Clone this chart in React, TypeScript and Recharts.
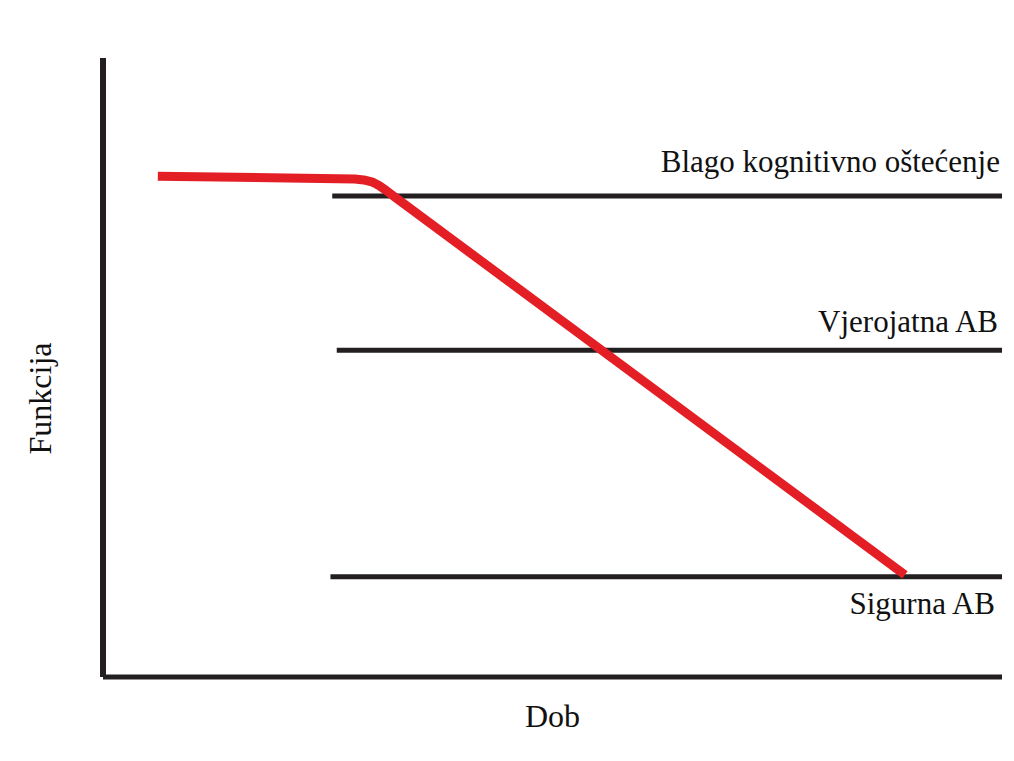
import { LineChart, Line, XAxis, YAxis, ReferenceLine } from "recharts"

// red curve: age (x) vs function (y), both on a 0-100 scale
const ageX = [6.1, 28.0, 29.0, 29.9, 30.7, 31.5, 32.4, 89.2]
const functionY = [80.9, 80.45, 80.3, 80.0, 79.4, 78.6, 77.6, 16.5]

// horizontal threshold lines
const stageNames = ["Blago kognitivno oštećenje", "Vjerojatna AB", "Sigurna AB"]
const stageLevels = [77.7, 52.8, 16.2]
const stageStarts = [25.5, 26.0, 25.3]

const xTitle = "Dob"
const yTitle = "Funkcija"

const data = ageX.map((x, i) => ({ dob: x, funkcija: functionY[i] }))

// label placement relative to the right end of each threshold line
const labelDx = [-2, -4, -7]
const labelDy = [-24, -18, 37]

const FONT = "'Liberation Serif', 'Times New Roman', serif"
const INK = "#231f20"
const textStyle = { fontFamily: FONT, fill: "#111" }

export default function App() {
  return (
    <div style={{ position: "absolute", left: 0, top: 0, background: "#fff" }}>
      <LineChart
        width={1014}
        height={761}
        data={data}
        margin={{ top: 58, right: 12, bottom: 83, left: 102 }}
      >
        <XAxis
          type="number"
          dataKey="dob"
          domain={[0, 100]}
          height={1}
          tick={false}
          tickLine={false}
          axisLine={{ stroke: INK, strokeWidth: 5 }}
          label={(p: any) => {
            const vb = p.viewBox
            return (
              <text
                x={vb.x + vb.width / 2}
                y={vb.y + 50}
                textAnchor="middle"
                fontSize={32}
                style={textStyle}
              >
                {xTitle}
              </text>
            )
          }}
        />
        <YAxis
          type="number"
          domain={[0, 100]}
          width={1}
          tick={false}
          tickLine={false}
          axisLine={{ stroke: INK, strokeWidth: 6 }}
          label={(p: any) => {
            const vb = p.viewBox
            const cx = vb.x - 51
            const cy = vb.y + vb.height / 2 + 31
            return (
              <text
                x={cx}
                y={cy}
                textAnchor="middle"
                transform={`rotate(-90, ${cx}, ${cy})`}
                fontSize={32}
                style={textStyle}
              >
                {yTitle}
              </text>
            )
          }}
        />
        {stageNames.map((name, i) => (
          <ReferenceLine
            key={name}
            segment={[
              { x: stageStarts[i], y: stageLevels[i] },
              { x: 100, y: stageLevels[i] },
            ]}
            stroke={INK}
            strokeWidth={5}
            label={(p: any) => {
              const vb = p.viewBox
              return (
                <text
                  x={vb.x + vb.width + labelDx[i]}
                  y={vb.y + labelDy[i]}
                  textAnchor="end"
                  fontSize={31}
                  style={textStyle}
                >
                  {name}
                </text>
              )
            }}
          />
        ))}
        <Line
          type="linear"
          dataKey="funkcija"
          stroke="#e31e25"
          strokeWidth={9}
          strokeLinejoin="round"
          dot={false}
          activeDot={false}
          isAnimationActive={false}
        />
      </LineChart>
    </div>
  )
}
